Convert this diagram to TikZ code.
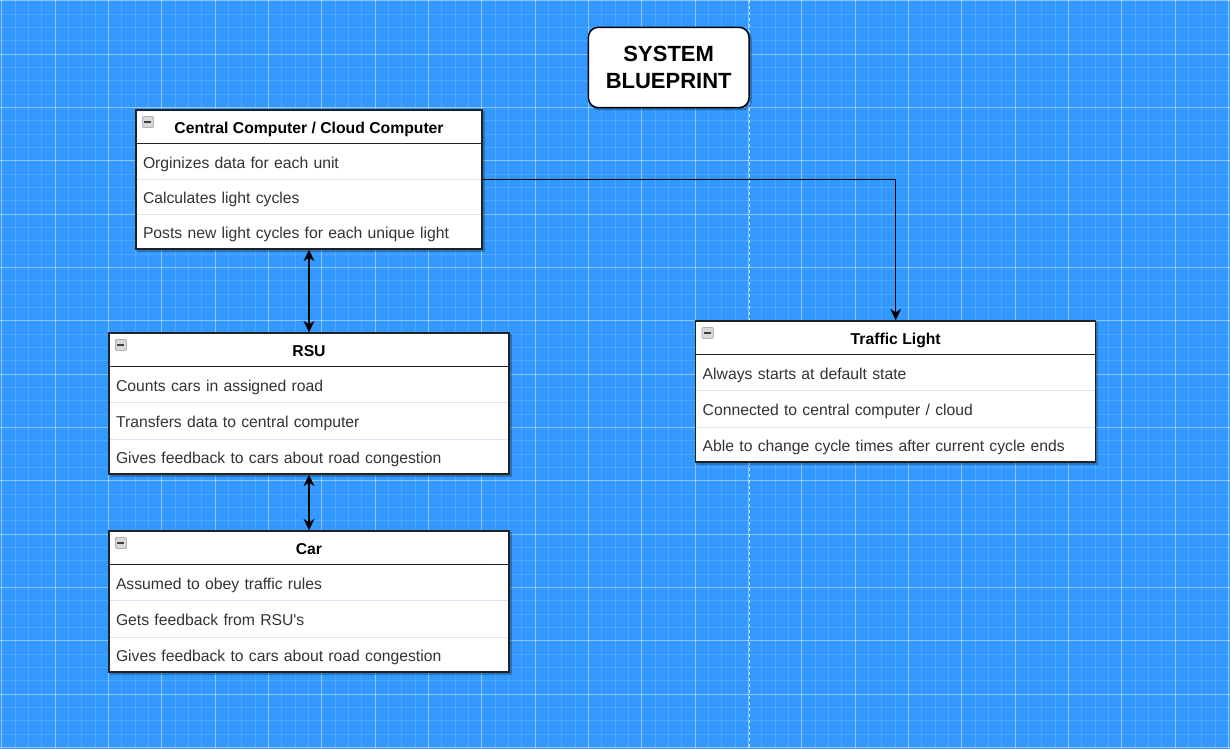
\documentclass[tikz,border=0pt]{standalone}
\usepackage{fontspec}
\setmainfont{Liberation Sans}
\usepackage{tikz}
\usetikzlibrary{arrows.meta,positioning,fit,backgrounds}

\definecolor{bpblue}{RGB}{51,153,255}
\definecolor{boxline}{RGB}{34,34,34}
\definecolor{rowtext}{RGB}{51,51,51}
\definecolor{rowsep}{RGB}{218,230,242}

\begin{document}
\begin{tikzpicture}[
  x=0.75pt, y=-0.75pt,
  font=\fontsize{11.8}{14}\selectfont,
  >={Stealth[length=8.5pt, width=8pt, inset=2.5pt]},
  hdr/.style={draw=boxline, line width=1pt, fill=white, anchor=north west, outer sep=0pt,
    minimum width=#1, minimum height=25.5pt, inner sep=0pt, text height=10pt, text depth=0pt,
    font=\fontsize{11.8}{14}\selectfont\bfseries},
  row/.style={fill=white, text=rowtext, align=left, text width=#1, inner xsep=5.25pt,
    inner ysep=0pt, outer sep=0pt, minimum height=26.25pt, text height=10.4pt, text depth=0pt},
  tallrow/.style={row=#1, minimum height=27.75pt},
  sep/.style={draw=rowsep, line width=0.75pt},
  frame/.style={draw=boxline, line width=1pt, inner sep=0pt},
  shade/.style={fill=black, opacity=0.25},
  fold/.style={draw=gray!80, fill=gray!30, rounded corners=1pt, minimum size=8.5pt,
    inner sep=0pt, anchor=north west,
    path picture={\draw[line width=1.2pt, black!75]
      ([xshift=-2.6pt]path picture bounding box.center) -- ([xshift=2.6pt]path picture bounding box.center);}},
  badge/.style={draw=black, line width=1.1pt, fill=white, rounded corners=7.5pt, align=center,
    minimum width=120.5pt, minimum height=60.3pt, inner sep=0pt,
    font=\fontsize{16.5}{20.25}\selectfont\bfseries},
  flow/.style={<->, line width=1.25pt, black},
  link/.style={->, line width=1.1pt, black},
  minorgrid/.style={white, opacity=0.13, line width=0.75pt},
  majorgrid/.style={white, opacity=0.35, line width=0.75pt}
]
  \useasboundingbox (0,0) rectangle (1230,749);

  % blueprint grid
  \begin{scope}[on background layer]
    \fill[bpblue] (0,0) rectangle (1230,749);
    \foreach \i in {0,...,92} \draw[minorgrid] ({1.7+\i*13.333},0) -- ({1.7+\i*13.333},749);
    \foreach \j in {0,...,56} \draw[minorgrid] (0,{0.7+\j*13.333}) -- (1230,{0.7+\j*13.333});
    \foreach \i in {0,...,23} \draw[majorgrid] ({1.7+\i*53.333},0) -- ({1.7+\i*53.333},749);
    \foreach \j in {0,...,14} \draw[majorgrid] (0,{0.7+\j*53.333}) -- (1230,{0.7+\j*53.333});
    \draw[white, opacity=0.7, line width=0.75pt, dash pattern=on 2.25pt off 2.25pt] (749.3,0) -- (749.3,749);
  \end{scope}

  % title
  \node[badge] (bp) at (668.7,67.5) {SYSTEM\\BLUEPRINT};

  % central computer
  \node[hdr=259.5pt] (cch) at (136,110) {Central Computer / Cloud Computer};
  \node[fold] (ccm) at ([shift={(6,6)}]cch.north west) {};
  \node[row=249pt, below=0pt of cch] (cc1) {Orginizes data for each unit};
  \node[row=249pt, below=0pt of cc1] (cc2) {Calculates light cycles};
  \node[row=249pt, below=0pt of cc2] (cc3) {Posts new light cycles for each unique light};
  \draw[sep] (cc1.south west) -- (cc1.south east);
  \draw[sep] (cc2.south west) -- (cc2.south east);
  \node[frame, fit=(cch)(cc3)] (cc) {};

  % rsu
  \node[hdr=300pt] (rsuh) at (109,333) {RSU};
  \node[fold] (rsum) at ([shift={(6,6)}]rsuh.north west) {};
  \node[row=289.5pt, below=0pt of rsuh] (rsu1) {Counts cars in assigned road};
  \node[tallrow=289.5pt, below=0pt of rsu1] (rsu2) {Transfers data to central computer};
  \node[row=289.5pt, below=0pt of rsu2] (rsu3) {Gives feedback to cars about road congestion};
  \draw[sep] (rsu1.south west) -- (rsu1.south east);
  \draw[sep] (rsu2.south west) -- (rsu2.south east);
  \node[frame, fit=(rsuh)(rsu3)] (rsu) {};

  % car
  \node[hdr=300pt] (carh) at (109,531) {Car};
  \node[fold] (carm) at ([shift={(6,6)}]carh.north west) {};
  \node[row=289.5pt, below=0pt of carh] (car1) {Assumed to obey traffic rules};
  \node[tallrow=289.5pt, below=0pt of car1] (car2) {Gets feedback from RSU\textquotesingle s};
  \node[row=289.5pt, below=0pt of car2] (car3) {Gives feedback to cars about road congestion};
  \draw[sep] (car1.south west) -- (car1.south east);
  \draw[sep] (car2.south west) -- (car2.south east);
  \node[frame, fit=(carh)(car3)] (car) {};

  % traffic light
  \node[hdr=300pt] (tlh) at (695.7,321) {Traffic Light};
  \node[fold] (tlm) at ([shift={(6,6)}]tlh.north west) {};
  \node[row=289.5pt, below=0pt of tlh] (tl1) {Always starts at default state};
  \node[tallrow=289.5pt, below=0pt of tl1] (tl2) {Connected to central computer / cloud};
  \node[row=289.5pt, below=0pt of tl2] (tl3) {Able to change cycle times after current cycle ends};
  \draw[sep] (tl1.south west) -- (tl1.south east);
  \draw[sep] (tl2.south west) -- (tl2.south east);
  \node[frame, fit=(tlh)(tl3)] (tl) {};

  % drop shadows
  \begin{scope}[on background layer]
    \fill[shade, rounded corners=7.5pt] ([shift={(2,2)}]bp.north west) rectangle ([shift={(2,2)}]bp.south east);
    \fill[shade] ([shift={(2,2)}]cc.north west) rectangle ([shift={(2,2)}]cc.south east);
    \fill[shade] ([shift={(2,2)}]rsu.north west) rectangle ([shift={(2,2)}]rsu.south east);
    \fill[shade] ([shift={(2,2)}]car.north west) rectangle ([shift={(2,2)}]car.south east);
    \fill[shade] ([shift={(2,2)}]tl.north west) rectangle ([shift={(2,2)}]tl.south east);
  \end{scope}

  % connectors
  \draw[flow] (cc.south) -- (rsu.north);
  \draw[flow] (rsu.south) -- (car.north);
  \draw[link] (cc.east) -| (tl.north);
\end{tikzpicture}
\end{document}
